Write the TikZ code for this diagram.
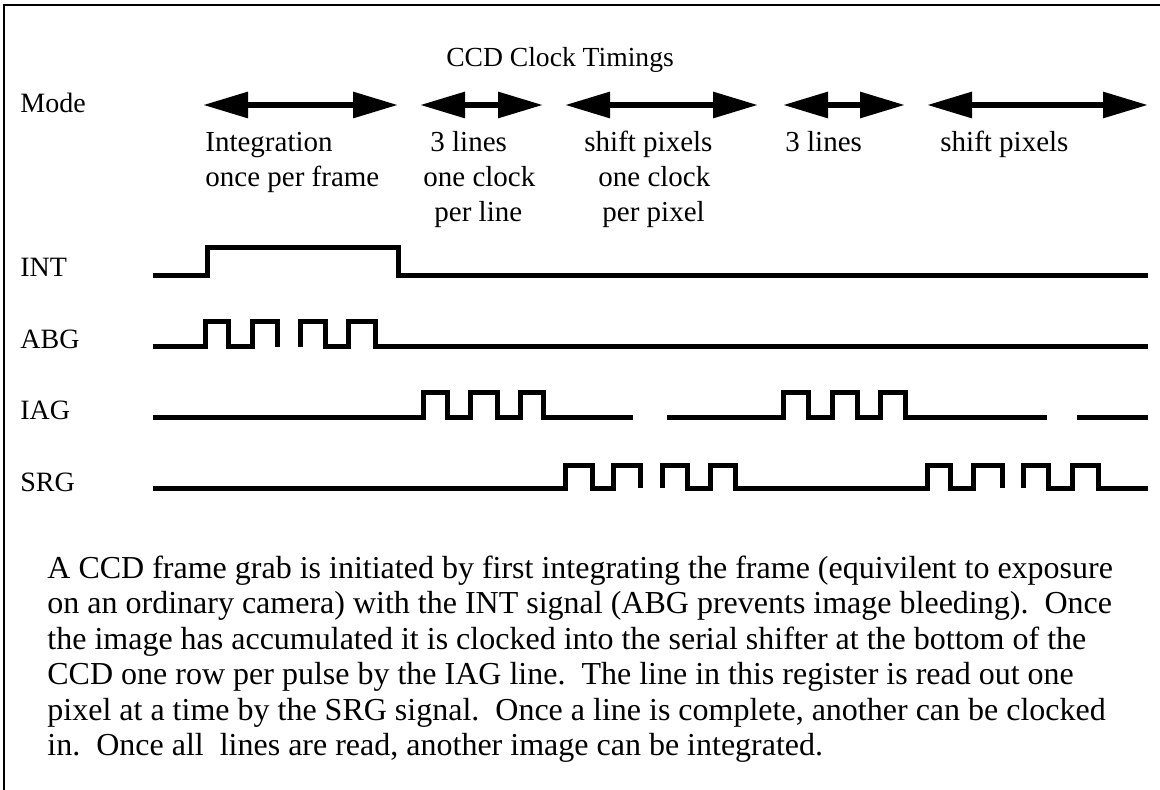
\documentclass[tikz,border=0pt]{standalone}
\usepackage{fontspec}
\setmainfont{Liberation Serif}
\usetikzlibrary{arrows.meta}
\begin{document}
\begin{tikzpicture}[x=0.5pt,y=-0.5pt,
  wave/.style={line width=2.5pt, line join=miter, line cap=butt},
  spanarrow/.style={line width=3pt,
    {Triangle[length=22.5pt,width=12.5pt]}-{Triangle[length=22.5pt,width=12.5pt]}},
  frameline/.style={line width=1.25pt},
  heading/.style={font=\fontsize{13.8}{14}\selectfont, inner sep=0pt, anchor=base},
  sig/.style={font=\fontsize{14}{14}\selectfont, inner sep=0pt, anchor=base west},
  phase/.style={font=\fontsize{14.5}{14.5}\selectfont, inner sep=0pt, anchor=base west},
  para/.style={font=\fontsize{16}{16}\selectfont, inner sep=0pt, anchor=base west}
]
\useasboundingbox (0,0) rectangle (1160,790);

% open frame: top and left edges
\coordinate (fTL) at (4,5);
\coordinate (fTR) at (1160,5);
\coordinate (fBL) at (4,790);
\draw[frameline] (fBL) -- (fTL) -- (fTR);

% heading and row names
\node[heading] (title) at (560,67) {CCD Clock Timings};
\node[sig] (mode) at (20,113) {Mode};
\node[sig] (nINT) at (20,277) {INT};
\node[sig] (nABG) at (20,349) {ABG};
\node[sig] (nIAG) at (20,420) {IAG};
\node[sig] (nSRG) at (20,491) {SRG};

% phase spans
\coordinate (a1l) at (203,105); \coordinate (a1r) at (398,105);
\coordinate (a2l) at (420,105); \coordinate (a2r) at (543,105);
\coordinate (a3l) at (565,105); \coordinate (a3r) at (758,105);
\coordinate (a4l) at (783,105); \coordinate (a4r) at (905,105);
\coordinate (a5l) at (927,105); \coordinate (a5r) at (1148,105);
\foreach \k in {1,...,5} \draw[spanarrow] (a\k l) -- (a\k r);

% phase descriptions
\node[phase] (p1a) at (205,152) {Integration};
\node[phase] (p1b) at (205,187) {once per frame};
\node[phase] (p2a) at (430,152) {3 lines};
\node[phase] (p2b) at (423,187) {one clock};
\node[phase] (p2c) at (434,222) {per line};
\node[phase] (p3a) at (584,152) {shift pixels};
\node[phase] (p3b) at (598,187) {one clock};
\node[phase] (p3c) at (602,222) {per pixel};
\node[phase] (p4a) at (785,152) {3 lines};
\node[phase] (p5a) at (940,152) {shift pixels};

% INT
\draw[wave] (153,276) -- (207,276) -- (207,248) -- (398,248) -- (398,276) -- (1148,276);

% ABG
\draw[wave] (153,347) -- (205,347) -- (205,322) -- (228,322) -- (228,347)
  -- (252,347) -- (252,322) -- (277,322) -- (277,347);
\draw[wave] (300,347) -- (300,322) -- (325,322) -- (325,347) -- (348,347)
  -- (348,322) -- (375,322) -- (375,347) -- (1148,347);

% IAG
\draw[wave] (153,418) -- (423,418) -- (423,393) -- (447,393) -- (447,418)
  -- (470,418) -- (470,393) -- (497,393) -- (497,418) -- (520,418)
  -- (520,393) -- (543,393) -- (543,418) -- (633,418);
\draw[wave] (667,418) -- (783,418) -- (783,393) -- (808,393) -- (808,418)
  -- (832,418) -- (832,393) -- (857,393) -- (857,418) -- (880,418)
  -- (880,393) -- (905,393) -- (905,418) -- (1047,418);
\draw[wave] (1077,418) -- (1148,418);

% SRG
\draw[wave] (153,488) -- (565,488) -- (565,465) -- (592,465) -- (592,488)
  -- (613,488) -- (613,465) -- (640,465) -- (640,488);
\draw[wave] (662,488) -- (662,465) -- (687,465) -- (687,488) -- (710,488)
  -- (710,465) -- (735,465) -- (735,488) -- (927,488) -- (927,465)
  -- (950,465) -- (950,488) -- (973,488) -- (973,465) -- (1002,465) -- (1002,488);
\draw[wave] (1023,488) -- (1023,465) -- (1048,465) -- (1048,488) -- (1072,488)
  -- (1072,465) -- (1098,465) -- (1098,488) -- (1148,488);

% explanatory paragraph
\node[para] (t1) at (47,578) {A CCD frame grab is initiated by first integrating the frame (equivilent to exposure};
\node[para] (t2) at (47,613.5) {on an ordinary camera) with the INT signal (ABG prevents image bleeding).\ \ Once};
\node[para] (t3) at (47,649) {the image has accumulated it is clocked into the serial shifter at the bottom of the};
\node[para] (t4) at (47,684.5) {CCD one row per pulse by the IAG line.\ \ The line in this register is read out one};
\node[para] (t5) at (47,720) {pixel at a time by the SRG signal.\ \ Once a line is complete, another can be clocked};
\node[para] (t6) at (47,755.5) {in.\ \ Once all\ \ lines are read, another image can be integrated.};
\end{tikzpicture}
\end{document}
